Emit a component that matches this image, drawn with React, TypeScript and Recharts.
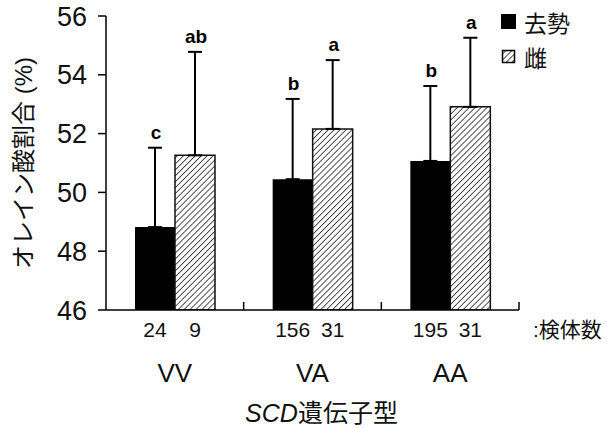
import { BarChart, Bar, XAxis, YAxis, ErrorBar, LabelList, Legend, Label } from 'recharts'

const FONT = '"Liberation Sans", Arial, "Noto Sans CJK JP", sans-serif'

// 遺伝子型ごとの値
const genotypes = ['VV', 'VA', 'AA']
const castratedMean = [48.82, 50.45, 51.07]
const castratedSd = [2.7, 2.73, 2.55]
const femaleMean = [51.26, 52.16, 52.91]
const femaleSd = [3.52, 2.34, 2.35]
const castratedN = [24, 156, 195]
const femaleN = [9, 31, 31]
const castratedLetters = ['c', 'b', 'b']
const femaleLetters = ['ab', 'a', 'a']
const yTicks = [46, 48, 50, 52, 54, 56]
const yDomain: [number, number] = [46, 56]

const data = genotypes.map((g, i) => ({
  genotype: g,
  castrated: castratedMean[i],
  castratedErr: [0, castratedSd[i]],
  castratedN: castratedN[i],
  female: femaleMean[i],
  femaleErr: [0, femaleSd[i]],
  femaleN: femaleN[i],
}))

const letterLabel = (means: number[], sds: number[], letters: string[]) => (props: any) => {
  const { x, y, width, height, index } = { ...(props.viewBox ?? {}), ...props }
  const perUnit = height / (means[index] - yDomain[0])
  const top = y - sds[index] * perUnit
  return (
    <text x={x + width / 2 + 1} y={top - 9} textAnchor="middle" fontWeight="bold" fontSize={19} fontFamily={FONT} fill="#000">
      {letters[index]}
    </text>
  )
}

const countLabel = (props: any) => {
  const { x, y, width, height, value } = { ...(props.viewBox ?? {}), ...props }
  return (
    <text x={x + width / 2} y={y + height + 27} textAnchor="middle" fontSize={21} fontFamily={FONT} fill="#111">
      {value}
    </text>
  )
}

function CategoryTick(props: any) {
  const { x, y, payload } = props
  const half = payload?.offset || 69
  const i = genotypes.indexOf(payload.value)
  return (
    <g>
      <line x1={x + half} x2={x + half} y1={y} y2={y - 8} stroke="#000" strokeWidth={1.5} />
      <text x={x} y={y + 72} textAnchor="middle" fontSize={26} fontFamily={FONT} fill="#111">
        {payload.value}
      </text>
      {i === genotypes.length - 1 && (
        <text x={x + half + 14} y={y + 27} fontSize={21} fontFamily={FONT} fill="#111">
          :検体数
        </text>
      )}
    </g>
  )
}

function LegendBox(props: any) {
  const { payload = [] } = props
  return (
    <div style={{ fontFamily: FONT, fontSize: 23, color: '#111' }}>
      {payload.map((entry: any) => {
        const hatched = entry.dataKey === 'female'
        return (
          <div key={entry.value} style={{ display: 'flex', alignItems: 'center', height: 35 }}>
            <svg width={16} height={16} style={{ marginRight: 7 }}>
              {hatched ? (
                <rect x={1.5} y={1.5} width={12} height={12} fill="url(#hatch)" stroke="#000" strokeWidth={1.5} />
              ) : (
                <rect x={0} y={0} width={15} height={15} fill="#000" />
              )}
            </svg>
            <span>{entry.value}</span>
          </div>
        )
      })}
    </div>
  )
}

export default function App() {
  return (
    <div style={{ position: 'absolute', left: 0, top: 0, width: 607, height: 428, background: '#fff' }}>
      <svg width={0} height={0} style={{ position: 'absolute' }}>
        <defs>
          <pattern id="hatch" width={4.2} height={4.2} patternUnits="userSpaceOnUse" patternTransform="rotate(45)">
            <rect width={4.2} height={4.2} fill="#fff" />
            <line x1={0} y1={0} x2={0} y2={4.2} stroke="#3a3a3a" strokeWidth={1.8} />
          </pattern>
        </defs>
      </svg>
      <BarChart
        width={607}
        height={428}
        data={data}
        margin={{ top: 16, right: 88, left: 0, bottom: 0 }}
        barGap={0}
        barSize={40}
      >
        <XAxis
          dataKey="genotype"
          height={118}
          tickLine={false}
          tickSize={0}
          tickMargin={0}
          axisLine={{ stroke: '#000', strokeWidth: 1.5 }}
          tick={<CategoryTick />}
          interval={0}
        >
          <Label
            content={(p: any) => {
              const vb = p.viewBox
              return (
                <text x={vb.x + vb.width / 2 + 9} y={vb.y + 112} textAnchor="middle" fontSize={25} fontFamily={FONT} fill="#111">
                  <tspan fontStyle="italic">SCD</tspan>
                  <tspan>遺伝子型</tspan>
                </text>
              )
            }}
          />
        </XAxis>
        <YAxis
          width={106}
          domain={yDomain}
          ticks={yTicks}
          allowDataOverflow
          tickSize={8}
          tickMargin={11}
          tick={{ fontSize: 27, fill: '#111', fontFamily: FONT }}
          tickLine={{ stroke: '#000', strokeWidth: 1.5 }}
          axisLine={{ stroke: '#000', strokeWidth: 1.5 }}
        >
          <Label
            content={(p: any) => {
              const vb = p.viewBox
              const cx = vb.x + 23
              const cy = vb.y + vb.height / 2
              return (
                <text
                  transform={`translate(${cx},${cy}) rotate(-90)`}
                  textAnchor="middle"
                  dominantBaseline="central"
                  fontSize={24}
                  fontFamily={FONT}
                  fill="#111"
                >
                  オレイン酸割合 (%)
                </text>
              )
            }}
          />
        </YAxis>
        <Legend
          layout="vertical"
          align="center"
          verticalAlign="middle"
          wrapperStyle={{ left: 501, top: 4, width: 100 }}
          content={<LegendBox />}
        />
        <Bar dataKey="castrated" name="去勢" fill="#000" isAnimationActive={false}>
          <ErrorBar dataKey="castratedErr" direction="y" width={7} stroke="#000" strokeWidth={2} isAnimationActive={false} />
          <LabelList dataKey="castrated" content={letterLabel(castratedMean, castratedSd, castratedLetters)} />
          <LabelList dataKey="castratedN" content={countLabel} />
        </Bar>
        <Bar dataKey="female" name="雌" fill="url(#hatch)" stroke="#111" strokeWidth={1.5} isAnimationActive={false}>
          <ErrorBar dataKey="femaleErr" direction="y" width={7} stroke="#000" strokeWidth={2} isAnimationActive={false} />
          <LabelList dataKey="female" content={letterLabel(femaleMean, femaleSd, femaleLetters)} />
          <LabelList dataKey="femaleN" content={countLabel} />
        </Bar>
      </BarChart>
    </div>
  )
}
